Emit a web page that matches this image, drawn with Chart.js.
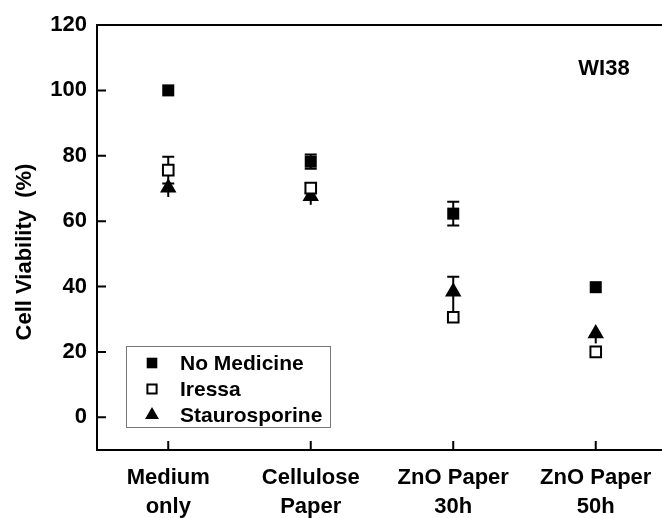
<!DOCTYPE html>
<html>
<head>
<meta charset="utf-8">
<script src="https://cdn.jsdelivr.net/npm/chart.js@4.4.0/dist/chart.umd.min.js"></script>
<style>
body{margin:0;background:#fff;}
</style>
</head>
<body>
<canvas id="myChart" width="662" height="518"></canvas>
<script>
// chart data
const categories=[['Medium','only'],['Cellulose','Paper'],['ZnO Paper','30h'],['ZnO Paper','50h']];
const yTicks=[0,20,40,60,80,100,120];

const noMedicine=[100,78.2,62.3,39.8];
const noMedicineErrUp=[0,2.2,3.6,0];
const noMedicineErrDown=[0,2.2,3.6,0];

const iressa=[75.6,70.1,30.6,20];
const iressaErrUp=[4.1,1.5,0,0];
const iressaErrDown=[4.1,1.5,0,0];

const stauro=[70.2,67.6,38.4,25.6];
const stauroErrUp=[0,0,4.6,0];
const stauroErrDown=[2.8,2.6,7,3];

const FONT='"Liberation Sans", Arial, sans-serif';

function points(vals){
    return vals.map((v,i)=>({x:i,y:v}));
}

const frame={
    id:'frame',
    beforeDatasetsDraw(chart){
        const ctx=chart.ctx, a=chart.chartArea, x=chart.scales.x, y=chart.scales.y;
        ctx.save();
        ctx.strokeStyle='#000';
        ctx.lineWidth=2;
        // axes box (right side falls off the canvas)
        ctx.beginPath();
        ctx.moveTo(chart.width,a.top);
        ctx.lineTo(a.left,a.top);
        ctx.lineTo(a.left,a.bottom);
        ctx.lineTo(chart.width,a.bottom);
        ctx.stroke();
        // inward ticks
        ctx.beginPath();
        yTicks.forEach(v=>{
            const py=y.getPixelForValue(v);
            ctx.moveTo(a.left,py); ctx.lineTo(a.left+9,py);
        });
        categories.forEach((c,i)=>{
            const px=x.getPixelForValue(i);
            ctx.moveTo(px,a.bottom); ctx.lineTo(px,a.bottom-9);
        });
        ctx.stroke();

        // error bars
        chart.data.datasets.forEach(ds=>{
            ds.data.forEach((p,i)=>{
                const px=x.getPixelForValue(p.x);
                const up=ds.errUp[i], down=ds.errDown[i];
                if(!up && !down) return;
                const top=y.getPixelForValue(p.y+up);
                const bot=y.getPixelForValue(p.y-down);
                ctx.beginPath();
                ctx.moveTo(px,top); ctx.lineTo(px,bot);
                if(up){ ctx.moveTo(px-6,top); ctx.lineTo(px+6,top); }
                if(down && ds.capDown){ ctx.moveTo(px-6,bot); ctx.lineTo(px+6,bot); }
                ctx.stroke();
            });
        });

        // y axis title
        ctx.fillStyle='#000';
        ctx.font='bold 22px '+FONT;
        ctx.textAlign='center';
        ctx.textBaseline='middle';
        ctx.save();
        ctx.translate(25,252);
        ctx.rotate(-Math.PI/2);
        ctx.fillText('Cell Viability  (%)',0,0);
        ctx.restore();

        // cell line label
        ctx.fillText('WI38',604,69);
        ctx.restore();
    },
    afterDatasetsDraw(chart){
        const ctx=chart.ctx;
        ctx.save();
        ctx.fillStyle='#fff';
        ctx.fillRect(126,346,204,81);
        ctx.strokeStyle='#777';
        ctx.lineWidth=1;
        ctx.strokeRect(126.5,346.5,204,81);
        ctx.font='bold 21px '+FONT;
        ctx.textAlign='left';
        ctx.textBaseline='middle';
        chart.data.datasets.forEach((ds,i)=>{
            const ry=363+i*26;
            ctx.fillStyle=ds.backgroundColor;
            ctx.strokeStyle=ds.borderColor;
            ctx.lineWidth=ds.borderWidth;
            Chart.helpers.drawPoint(ctx,{
                pointStyle:ds.pointStyle,
                radius:ds.pointStyle==='triangle'?8:(ds.borderWidth?6.5:7.5),
                rotation:0,
                borderWidth:ds.borderWidth
            },152,ry);
            ctx.fillStyle='#000';
            ctx.fillText(ds.label,180,ry+1);
        });
        ctx.restore();
    }
};

new Chart(document.getElementById('myChart'),{
    type:'scatter',
    data:{
        datasets:[
            {
                label:'No Medicine',
                data:points(noMedicine),
                errUp:noMedicineErrUp,
                errDown:noMedicineErrDown,
                capDown:true,
                pointStyle:'rect',
                pointRadius:8.5,
                backgroundColor:'#000',
                borderColor:'#000',
                borderWidth:0
            },
            {
                label:'Iressa',
                data:points(iressa),
                errUp:iressaErrUp,
                errDown:iressaErrDown,
                capDown:true,
                pointStyle:'rect',
                pointRadius:7.5,
                backgroundColor:'#fff',
                borderColor:'#000',
                borderWidth:2
            },
            {
                label:'Staurosporine',
                data:points(stauro),
                errUp:stauroErrUp,
                errDown:stauroErrDown,
                capDown:false,
                pointStyle:'triangle',
                pointRadius:9.5,
                backgroundColor:'#000',
                borderColor:'#000',
                borderWidth:0
            }
        ]
    },
    options:{
        responsive:false,
        animation:false,
        events:[],
        layout:{autoPadding:false,padding:{top:25,right:0,left:0,bottom:0}},
        plugins:{legend:{display:false},tooltip:{enabled:false}},
        scales:{
            x:{
                type:'linear',
                min:-0.5,
                max:3.465,
                grid:{display:false,drawTicks:false},
                border:{display:false},
                afterBuildTicks:s=>{ s.ticks=categories.map((c,i)=>({value:i})); },
                afterFit:s=>{ s.height=68; s.paddingLeft=0; s.paddingRight=0; },
                ticks:{
                    callback:v=>categories[v],
                    autoSkip:false,
                    maxRotation:0,
                    padding:14,
                    color:'#000',
                    font:{family:FONT,weight:'bold',size:22,lineHeight:1.3}
                }
            },
            y:{
                min:-10,
                max:120,
                grid:{display:false,drawTicks:false},
                border:{display:false},
                afterBuildTicks:s=>{ s.ticks=yTicks.map(v=>({value:v})); },
                afterFit:s=>{ s.width=97; },
                ticks:{
                    padding:10,
                    color:'#000',
                    font:{family:FONT,weight:'bold',size:22}
                }
            }
        }
    },
    plugins:[frame]
});
</script>
</body>
</html>
